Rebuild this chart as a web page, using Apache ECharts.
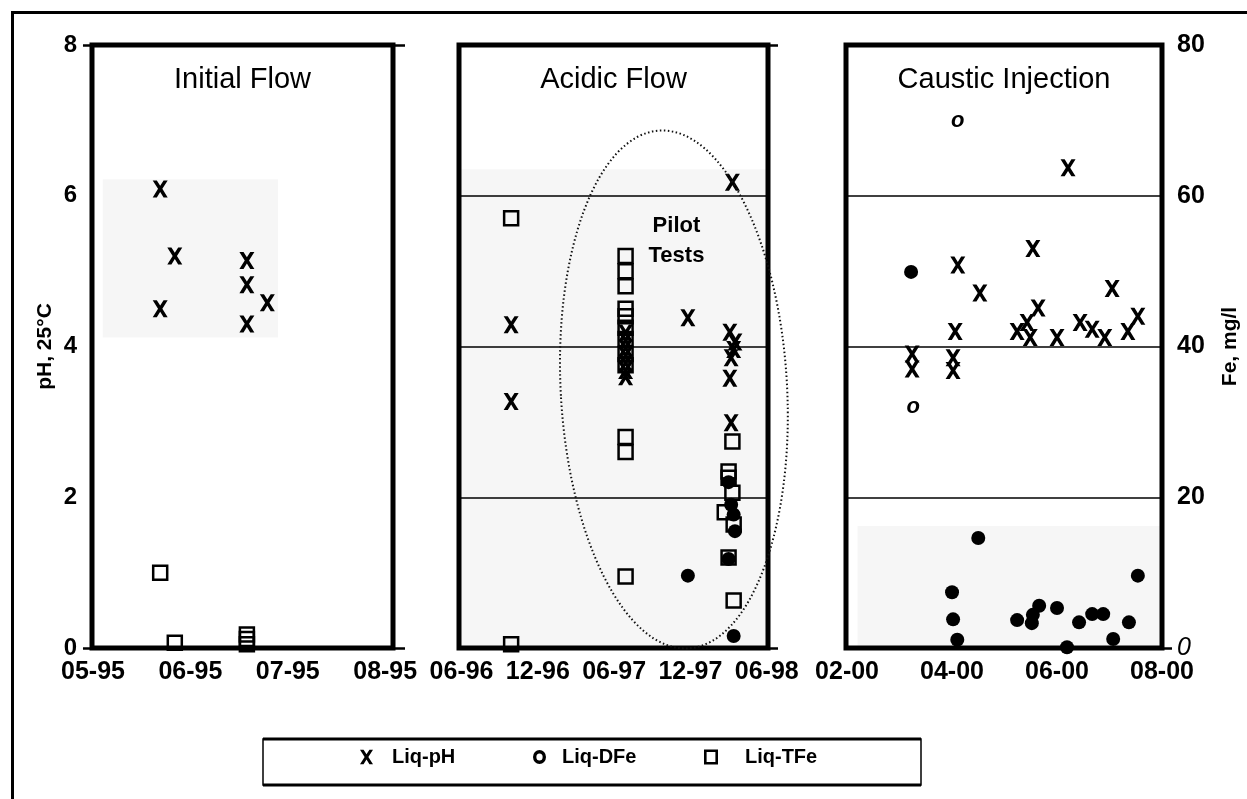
<!DOCTYPE html>
<html><head><meta charset="utf-8">
<script src="https://cdn.jsdelivr.net/npm/echarts@6/dist/echarts.min.js"></script>
<style>html,body{margin:0;padding:0;background:#fff}#c{width:1247px;height:799px}</style>
</head><body><div id="c"></div>
<script>
// ---------------- DATA ----------------
// x tick labels (values are months counted from the first label of each panel)
const p1TickVals = [0, 1, 2, 3];
const p1Ticks = ['05-95', '06-95', '07-95', '08-95'];
const p2TickVals = [0, 6, 12, 18, 24];
const p2Ticks = ['06-96', '12-96', '06-97', '12-97', '06-98'];
const p3TickVals = [0, 2, 4, 6];
const p3Ticks = ['02-00', '04-00', '06-00', '08-00'];
const phTicks = [0, 2, 4, 6, 8];
const feTicks = [0, 20, 40, 60, 80];

// Panel 1 - Initial Flow
const p1PhMonth = [0.69, 0.84, 0.69, 1.58, 1.58, 1.79, 1.58];
const p1Ph      = [6.09, 5.20, 4.50, 5.14, 4.82, 4.58, 4.30];
const p1TFeMonth = [0.69, 0.84, 1.58, 1.58, 1.58];
const p1TFe      = [10.0, 0.7, 1.8, 1.2, 0.5];

// Panel 2 - Acidic Flow
const p2PhMonth = [3.9, 3.9, 12.9, 12.9, 12.9, 12.9, 12.9, 12.9, 12.9, 17.8, 21.3, 21.1, 21.5, 21.4, 21.2, 21.1, 21.2];
const p2Ph      = [4.29, 3.27, 4.18, 4.08, 3.98, 3.88, 3.78, 3.68, 3.60, 4.38, 6.18, 4.19, 4.06, 3.96, 3.85, 3.58, 2.99];
const p2TFeMonth = [3.9, 3.9, 12.9, 12.9, 12.9, 12.9, 12.9, 12.9, 12.9, 12.9, 12.9, 12.9, 12.9, 12.9, 21.3, 21.0, 21.0, 21.3, 20.7, 21.4, 21.0, 21.4];
const p2TFe      = [57, 0.5, 52, 50, 48, 45, 44, 42.5, 41, 39, 37.5, 28, 26, 9.5, 27.4, 23.4, 22.6, 20.6, 18.0, 16.4, 12.0, 6.3];
const p2DFeMonth = [17.8, 21.0, 21.2, 21.4, 21.5, 21.0, 21.4];
const p2DFe      = [9.6, 22.0, 19.0, 17.7, 15.5, 11.8, 1.6];

// Panel 3 - Caustic Injection
const p3PhMonth = [4.21, 3.54, 2.11, 2.53, 5.05, 3.64, 5.54, 4.44, 5.35, 4.67, 4.91, 4.00, 3.24, 3.43, 3.49, 2.06, 1.24, 1.24, 2.02, 2.02];
const p3Ph      = [6.37, 5.30, 5.08, 4.71, 4.77, 4.51, 4.40, 4.32, 4.20, 4.23, 4.12, 4.12, 4.20, 4.32, 4.12, 4.20, 3.90, 3.70, 3.85, 3.68];
const p3DFeMonth = [1.22, 2.50, 2.00, 2.02, 2.10, 3.24, 3.52, 3.54, 3.66, 4.00, 4.19, 4.42, 4.67, 4.88, 5.07, 5.37, 5.54];
const p3DFe      = [49.9, 14.6, 7.4, 3.8, 1.1, 3.7, 3.3, 4.4, 5.6, 5.3, 0.1, 3.4, 4.5, 4.5, 1.2, 3.4, 9.6];
const p3DFeOMonth = [2.11, 1.26];
const p3DFeO      = [69.9, 32.0];

// shaded (grey) regions, data coordinates [[x0,y0],[x1,y1]]
const p1ShadePh  = [[0.1, 4.12], [1.9, 6.22]];
const p2ShadePh  = [[-0.2, 0], [24.1, 6.35]];
const p3ShadeFe  = [[0.2, 0], [6.0, 16.2]];
// "Pilot Tests" ellipse (panel 2, data units: months, pH)
const pilotCenter = [16.7, 3.43];
const pilotRadius = [8.9, 3.44];
const pilotLabelAt = [16.9, 5.4];

// ---------------- STYLE / LAYOUT ----------------
const FONT = '"Liberation Sans", Arial, Helvetica, sans-serif';
const grids = [
  {left: 92, top: 45, width: 301, height: 603},
  {left: 459, top: 45, width: 309, height: 603},
  {left: 846, top: 45, width: 316, height: 603}
];
const titles = ['Initial Flow', 'Acidic Flow', 'Caustic Injection'];
const XPATH = 'path://M0,0H4.4L8,5.6L11.6,0H16L10.3,8.9L16,18H11.6L8,12.2L4.4,18H0L5.7,8.9Z';
const RING = 'path://M6,0A6,6.5,0,1,1,6,13A6,6.5,0,1,1,6,0ZM6,3.2A2.9,3.3,0,1,0,6,9.8A2.9,3.3,0,1,0,6,3.2Z';
const SQ = 'path://M0,0H14V15H0ZM2.6,2.6V12.4H11.4V2.6Z';
const SHADE = 'rgba(0,0,0,0.035)';

const pts = (xs, ys) => xs.map((x, i) => [x, ys[i]]);
const shade = r => ({silent: true, itemStyle: {color: SHADE}, data: [[{coord: r[0]}, {coord: r[1]}]]});

function xAxis(g, min, max, vals, labels) {
  return {
    gridIndex: g, type: 'value', min: min, max: max,
    axisLine: {show: false}, axisTick: {show: false}, splitLine: {show: false},
    axisLabel: {
      customValues: vals, margin: 12, color: '#000', fontSize: 25, fontWeight: 'bold', fontFamily: FONT,
      formatter: v => labels[vals.indexOf(v)] || ''
    }
  };
}
const tickStyle = {color: '#000', width: 2.5};
const yAxes = [
  {gridIndex: 0, type: 'value', min: 0, max: 8, interval: 2, position: 'left',
   name: 'pH, 25°C', nameLocation: 'middle', nameRotate: 90, nameGap: 36,
   nameTextStyle: {color: '#000', fontSize: 21, fontWeight: 'bold', fontFamily: FONT},
   axisLine: {show: false},
   axisTick: {show: true, customValues: [0, 8], length: 10, lineStyle: tickStyle},
   axisLabel: {customValues: phTicks, margin: 15, color: '#000', fontSize: 24, fontWeight: 'bold', fontFamily: FONT},
   splitLine: {show: true, lineStyle: {color: '#000', width: 1.5}}},
  {gridIndex: 0, type: 'value', min: 0, max: 80, interval: 20, position: 'right',
   axisLine: {show: false}, axisLabel: {show: false}, splitLine: {show: false},
   axisTick: {show: true, customValues: [0, 80], length: 12, lineStyle: tickStyle}},
  {gridIndex: 1, type: 'value', min: 0, max: 8, interval: 2, position: 'left',
   axisLine: {show: false}, axisLabel: {show: false}, axisTick: {show: false},
   splitLine: {show: true, lineStyle: {color: '#000', width: 1.5}}},
  {gridIndex: 1, type: 'value', min: 0, max: 80, interval: 20, position: 'right',
   axisLine: {show: false}, axisLabel: {show: false}, splitLine: {show: false},
   axisTick: {show: true, customValues: [0, 80], length: 10, lineStyle: tickStyle}},
  {gridIndex: 2, type: 'value', min: 0, max: 8, interval: 2, position: 'left',
   axisLine: {show: false}, axisLabel: {show: false}, axisTick: {show: false},
   splitLine: {show: true, lineStyle: {color: '#000', width: 1.5}}},
  {gridIndex: 2, type: 'value', min: 0, max: 80, interval: 20, position: 'right',
   name: 'Fe, mg/l', nameLocation: 'middle', nameRotate: 90, nameGap: 58,
   nameTextStyle: {color: '#000', fontSize: 21, fontWeight: 'bold', fontFamily: FONT},
   axisLine: {show: false}, splitLine: {show: false},
   axisTick: {show: true, customValues: [0], length: 10, lineStyle: tickStyle},
   axisLabel: {customValues: feTicks, margin: 15, color: '#000', fontSize: 25, fontWeight: 'bold', fontFamily: FONT,
     formatter: v => v === 0 ? '{z|0}' : String(v),
     rich: {z: {fontStyle: 'italic', fontWeight: 'normal', fontSize: 25, fontFamily: FONT, color: '#000'}}}}
];

const phStyle = {symbol: XPATH, symbolSize: [15, 17], itemStyle: {color: '#000', opacity: 1}};
const tfeStyle = {symbol: 'rect', symbolSize: 14, itemStyle: {color: 'rgba(255,255,255,0)', borderColor: '#000', borderWidth: 2.5, opacity: 1}};
const dfeStyle = {symbol: 'circle', symbolSize: 14, itemStyle: {color: '#000', opacity: 1}};
const common = {type: 'scatter', emphasis: {disabled: true}, silent: true};

const series = [
  Object.assign({}, common, phStyle, {name: 'Liq-pH', xAxisIndex: 0, yAxisIndex: 0, data: pts(p1PhMonth, p1Ph), markArea: shade(p1ShadePh)}),
  Object.assign({}, common, tfeStyle, {name: 'Liq-TFe', xAxisIndex: 0, yAxisIndex: 1, data: pts(p1TFeMonth, p1TFe)}),
  Object.assign({}, common, phStyle, {name: 'Liq-pH', xAxisIndex: 1, yAxisIndex: 2, data: pts(p2PhMonth, p2Ph), markArea: shade(p2ShadePh)}),
  Object.assign({}, common, tfeStyle, {name: 'Liq-TFe', xAxisIndex: 1, yAxisIndex: 3, data: pts(p2TFeMonth, p2TFe)}),
  Object.assign({}, common, dfeStyle, {name: 'Liq-DFe', xAxisIndex: 1, yAxisIndex: 3, data: pts(p2DFeMonth, p2DFe)}),
  Object.assign({}, common, phStyle, {name: 'Liq-pH', xAxisIndex: 2, yAxisIndex: 4, data: pts(p3PhMonth, p3Ph)}),
  Object.assign({}, common, dfeStyle, {name: 'Liq-DFe', xAxisIndex: 2, yAxisIndex: 5, data: pts(p3DFeMonth, p3DFe), markArea: shade(p3ShadeFe)}),
  Object.assign({}, common, {name: 'Liq-DFe', xAxisIndex: 2, yAxisIndex: 5, data: pts(p3DFeOMonth, p3DFeO),
    symbol: 'circle', symbolSize: 1, itemStyle: {color: 'rgba(0,0,0,0)', opacity: 1},
    label: {show: true, position: 'inside', formatter: 'o', color: '#000', opacity: 1, fontSize: 22, fontStyle: 'italic', fontWeight: 'bold', fontFamily: FONT}})
];

const legText = pad => ({color: '#000', fontSize: 20, fontWeight: 'bold', fontFamily: FONT, padding: [0, 0, 0, pad]});
const legends = [
  {left: 360, itemWidth: 13, data: [{name: 'Liq-pH', icon: XPATH}], textStyle: legText(14)},
  {left: 533, itemWidth: 13, data: [{name: 'Liq-DFe', icon: RING}], textStyle: legText(11)},
  {left: 704, itemWidth: 14, data: [{name: 'Liq-TFe', icon: SQ}], textStyle: legText(22)}
].map(l => Object.assign({selectedMode: false, padding: 0, top: 747, itemHeight: 16,
  itemStyle: {color: '#000', borderWidth: 0, opacity: 1}}, l));

const chart = echarts.init(document.getElementById('c'), null, {renderer: 'canvas'});
chart.setOption({
  animation: false,
  backgroundColor: '#fff',
  grid: grids.map(g => Object.assign({show: true, z: 5, borderColor: '#000', borderWidth: 5, backgroundColor: 'rgba(0,0,0,0)'}, g)),
  xAxis: [
    xAxis(0, -0.01, 3.08, p1TickVals, p1Ticks),
    xAxis(1, -0.2, 24.1, p2TickVals, p2Ticks),
    xAxis(2, -0.02, 6.0, p3TickVals, p3Ticks)
  ],
  yAxis: yAxes,
  legend: legends,
  series: series
});

// annotations anchored to the data coordinates
const c0 = chart.convertToPixel({xAxisIndex: 1, yAxisIndex: 2}, pilotCenter);
const c1 = chart.convertToPixel({xAxisIndex: 1, yAxisIndex: 2}, [pilotCenter[0] + pilotRadius[0], pilotCenter[1] + pilotRadius[1]]);
const lp = chart.convertToPixel({xAxisIndex: 1, yAxisIndex: 2}, pilotLabelAt);
const graphics = [
  {type: 'line', shape: {x1: 12.5, y1: 11, x2: 12.5, y2: 799}, style: {stroke: '#000', lineWidth: 3}, silent: true},
  {type: 'line', shape: {x1: 11, y1: 12.5, x2: 1247, y2: 12.5}, style: {stroke: '#000', lineWidth: 3}, silent: true},
  {type: 'rect', shape: {x: 263, y: 739, width: 658, height: 46}, style: {fill: 'none', stroke: '#000', lineWidth: 1.5}, silent: true},
  {type: 'line', shape: {x1: 263, y1: 739, x2: 921, y2: 739}, style: {stroke: '#000', lineWidth: 3}, silent: true},
  {type: 'line', shape: {x1: 263, y1: 785, x2: 921, y2: 785}, style: {stroke: '#000', lineWidth: 3}, silent: true},
  {type: 'ellipse', shape: {cx: c0[0], cy: c0[1], rx: Math.abs(c1[0] - c0[0]), ry: Math.abs(c1[1] - c0[1])},
   originX: c0[0], originY: c0[1], rotation: 0.055, z: 6,
   style: {fill: 'none', stroke: '#111', lineWidth: 2, lineDash: [1.5, 2.5]}, silent: true},
  {type: 'text', x: lp[0], y: lp[1], z: 6, silent: true,
   style: {text: 'Pilot\nTests', fill: '#000', font: 'bold 22px ' + FONT, textAlign: 'center', textVerticalAlign: 'middle', lineHeight: 30}}
];
grids.forEach((g, i) => graphics.push({type: 'text', x: g.left + g.width / 2, y: 80, z: 6, silent: true,
  style: {text: titles[i], fill: '#000', font: '29px ' + FONT, textAlign: 'center', textVerticalAlign: 'middle'}}));
chart.setOption({graphic: graphics});
</script>
</body></html>
